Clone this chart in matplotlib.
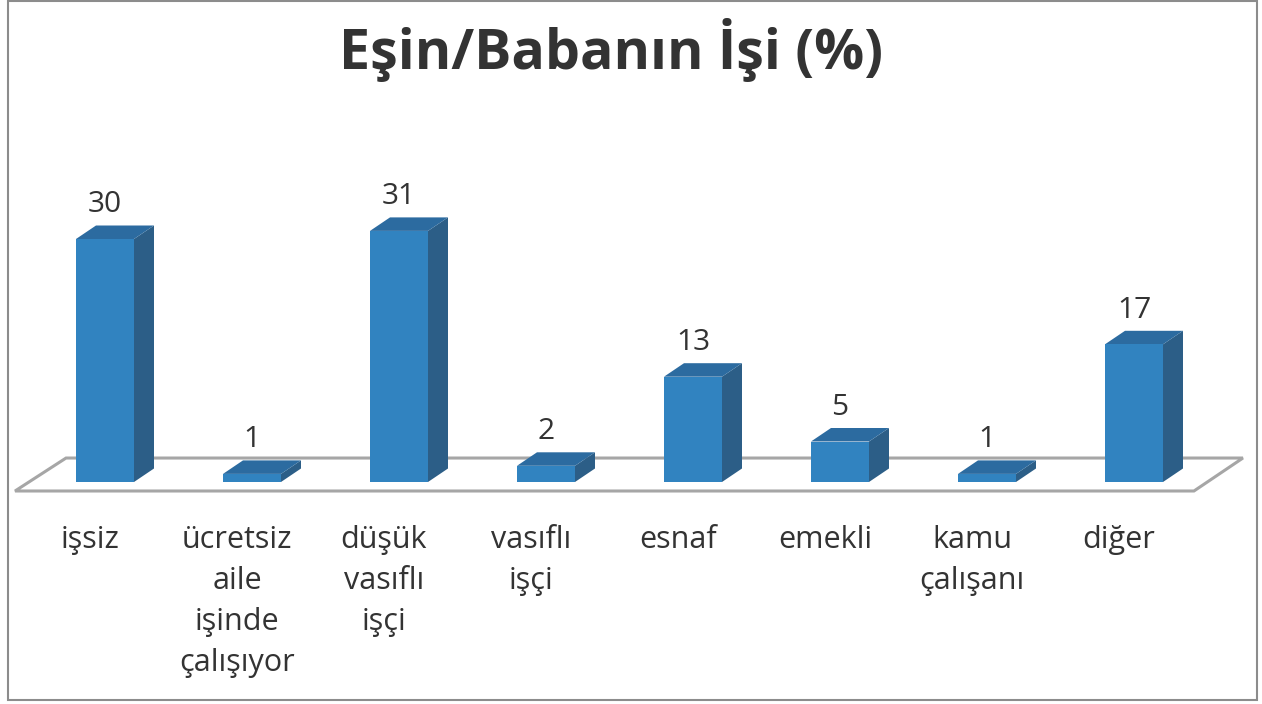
import matplotlib
matplotlib.use("Agg")
import matplotlib.pyplot as plt
from matplotlib.patches import Polygon, Rectangle

categories = ["işsiz", "ücretsiz\naile\nişinde\nçalışıyor", "düşük\nvasıflı\nişçi",
              "vasıflı\nişçi", "esnaf", "emekli", "kamu\nçalışanı", "diğer"]
values = [30, 1, 31, 2, 13, 5, 1, 17]
title = "Eşin/Babanın İşi (%)"

FRONT = "#3183C0"
SIDE = "#2C5E87"
TOP = "#2C6BA0"
TXT = "#333333"
plt.rcParams["font.family"] = ["Open Sans", "DejaVu Sans"]

W, H = 1262, 704
fig = plt.figure(figsize=(W / 100, H / 100), dpi=100)
ax = fig.add_axes([0, 0, 1, 1])
ax.set_axis_off()

# pixel mapping: category i centred at 105 + 147*i, value 0 at y=482, 8.1 px per unit
x0, xs = 105, 147
y0, ys = 482, 8.1
ax.set_xlim((0 - x0) / xs, (W - x0) / xs)
ax.set_ylim((y0 - H) / ys, (y0 - 0) / ys)

bw = 58 / xs          # bar width
ddx = 20 / xs         # depth offset x
ddy = 13.5 / ys       # depth offset y

# floor outline
fl = Polygon([(-0.612, -1.11), (7.408, -1.11), (7.741, 2.96), (-0.265, 2.96)],
             closed=True, fill=False, edgecolor="#A6A6A6", lw=2.2, zorder=1)
ax.add_patch(fl)

for i, (lab, v) in enumerate(zip(categories, values)):
    l, r = i - bw / 2, i + bw / 2
    ax.add_patch(Polygon([(r, 0), (r + ddx, ddy), (r + ddx, v + ddy), (r, v)],
                         closed=True, facecolor=SIDE, edgecolor="none", zorder=3))
    ax.add_patch(Polygon([(l, v), (r, v), (r + ddx, v + ddy), (l + ddx, v + ddy)],
                         closed=True, facecolor=TOP, edgecolor="none", zorder=3))
    ax.add_patch(Rectangle((l, 0), bw, v, facecolor=FRONT, edgecolor="none", zorder=4))
    ax.text(i, v + 34 / ys, str(v), ha="center", va="center", fontsize=21.5, color=TXT)
    ax.text(i - 15 / xs, -43 / ys, lab, ha="center", va="top", fontsize=22,
            color=TXT, linespacing=1.48)

fig.text(611 / W, 1 - 50 / H, title, ha="center", va="center", fontsize=40,
         fontweight="bold", color=TXT)

fig.patches.append(Rectangle((8 / W, 1 - 700 / H), (1257 - 8) / W, 699 / H,
                             transform=fig.transFigure, fill=False,
                             edgecolor="#8C8C8C", lw=1.5))

fig.savefig("out.png", dpi=100)
